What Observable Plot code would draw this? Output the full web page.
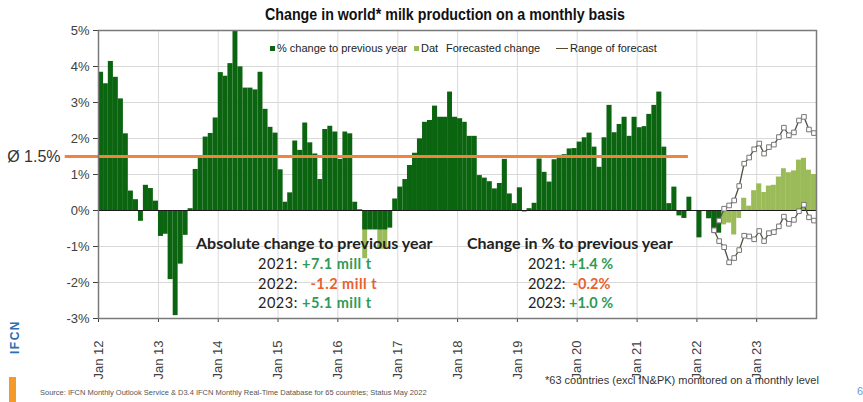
<!DOCTYPE html>
<html>
<head>
<meta charset="utf-8">
<script src="https://cdn.jsdelivr.net/npm/d3@7"></script>
<script src="https://cdn.jsdelivr.net/npm/@observablehq/plot@0.6"></script>
<style>
  html, body { margin: 0; padding: 0; background: #fff; }
  #chart { position: relative; width: 863px; height: 402px; overflow: hidden; font-family: "Liberation Sans", Arial, sans-serif; }
  #chart svg { position: absolute; left: 0; top: 0; }
  .t { position: absolute; white-space: pre; line-height: 1; }
  .title { left: 265px; top: 7px; font-size: 16px; font-weight: bold; color: #111; transform: scaleX(0.89); transform-origin: 0 0; }
  .legend { top: 42.5px; font-size: 11px; color: #222; }
  .sw { position: absolute; width: 5px; height: 5px; top: 46px; }
  .note { font-family: Lato, "Open Sans", sans-serif; color: #222; }
  .head { font-size: 16px; font-weight: bold; top: 235px; }
  .row { font-size: 14.5px; }
  .wide { letter-spacing: 0.5px; }
  .pos { color: #2f9a57; font-weight: bold; }
  .neg { color: #e8612c; font-weight: bold; }
</style>
</head>
<body>
<div id="chart"></div>
<script>
// Monthly year-on-year change of world milk production, % (Jan 2012 – May 2022)
const actualStart = "2012-01";
const actual = [
  3.84, 3.52, 4.14, 3.70, 3.10, 2.13, 0.54, 0.30, -0.30, 0.70, 0.61, 0.26,
  -0.72, -0.66, -1.92, -2.92, -1.49, -0.69, 0.05, 1.14, 1.45, 2.04, 2.14, 2.57,
  3.83, 3.73, 4.08, 5.00, 3.99, 3.40, 3.40, 3.35, 3.84, 2.81, 2.31, 2.15,
  1.13, 0.23, 0.49, 1.93, 1.67, 2.43, 1.88, 1.57, 0.86, 2.25, 2.34, 2.18,
  1.42, 2.18, 2.13, 0.23, 0.02, -0.54, -0.54, -0.54, -0.54, -0.54, -0.49, 0.32,
  0.65, 0.86, 1.25, 1.59, 1.99, 2.45, 2.50, 2.90, 2.59, 2.59, 3.29, 2.59,
  2.55, 2.45, 2.06, 2.06, 0.97, 0.90, 0.80, 0.60, 0.75, 1.42, 0.46, 0.19,
  0.63, -0.04, 0.05, 0.20, 1.43, 1.06, 0.79, 1.41, 1.53, 1.55, 1.71, 1.72,
  1.90, 2.02, 2.15, 1.76, 1.20, 2.02, 2.92, 2.16, 2.39, 2.59, 2.06, 2.59,
  2.30, 2.33, 2.67, 2.92, 3.29, 1.76, 0.19, 0.65, -0.15, -0.22, 0.37, -0.02,
  -0.76, -0.03, -0.23, -0.57, -0.63
];

// Forecasted change, % (Jun 2022 – Dec 2023)
const forecastStart = "2022-06";
const forecast = [
  -0.40, -0.35, -0.68, -0.22, 0.34, 0.12, 0.55, 0.74, 0.50, 0.68,
  0.70, 0.93, 1.16, 1.05, 1.10, 1.40, 1.45, 1.12, 1.00
];

// Older "Dat" series values that show below the 2016 bars
const datMonths = ["2016-06", "2016-09", "2016-10"];
const datValues = [-1.34, -1.08, -1.08];

// Range of forecast, upper and lower bound, % (Apr 2022 – Dec 2023)
const rangeStart = "2022-04";
const rangeHigh = [
  -0.55, -0.28, 0.05, 0.14, 0.28, 0.68, 1.30, 1.47, 1.70, 1.86, 1.58,
  1.76, 1.83, 2.04, 2.30, 2.09, 2.17, 2.50, 2.60, 2.25, 2.15
];
const rangeLow = [
  -0.55, -0.85, -1.02, -1.44, -1.32, -1.10, -0.70, -0.72, -0.80, -0.57, -0.85,
  -0.63, -0.60, -0.44, -0.17, -0.37, -0.26, -0.02, 0.16, -0.19, -0.28
];

// Long-term average growth and the span its line covers
const average = 1.5;
const averageLabel = "Ø 1.5%";
const averageFrom = "2011-06-12";
const averageTo = "2021-11-10";

// Axis ticks
const yearTicks = ["2012-01", "2013-01", "2014-01", "2015-01", "2016-01", "2017-01",
  "2018-01", "2019-01", "2020-01", "2021-01", "2022-01", "2023-01"];
const yearLabels = ["Jan 12", "Jan 13", "Jan 14", "Jan 15", "Jan 16", "Jan 17",
  "Jan 18", "Jan 19", "Jan 20", "Jan 21", "Jan 22", "Jan 23"];
const xDomain = ["2012-01", "2024-01"];
const yTicks = [-3, -2, -1, 0, 1, 2, 3, 4, 5];

const parseMonth = d3.utcParse("%Y-%m");
const parseDay = d3.utcParse("%Y-%m-%d");

// one row per monthly bar: [month start, next month start)
function monthRows(start, values) {
  const first = parseMonth(start);
  return values.map((value, i) => {
    const x1 = d3.utcMonth.offset(first, i);
    const x2 = d3.utcMonth.offset(first, i + 1);
    return {x1, x2, mid: new Date((+x1 + +x2) / 2), value};
  });
}

const actualRows = monthRows(actualStart, actual);
const forecastRows = monthRows(forecastStart, forecast);
const datRows = datMonths.map((m, i) => monthRows(m, [datValues[i]])[0]);
const highRows = monthRows(rangeStart, rangeHigh);
const lowRows = monthRows(rangeStart, rangeLow);

const tickDates = yearTicks.map(parseMonth);
const labelOf = new Map(tickDates.map((d, i) => [+d, yearLabels[i]]));

const darkGreen = "#0b640f";
const lightGreen = "#9bbb59";
const rangeColor = "#4f4f3f";
const gridColor = "#d9d9d9";

const plot = Plot.plot({
  width: 863,
  height: 402,
  marginLeft: 98,
  marginRight: 47,
  marginTop: 30,
  marginBottom: 84,
  style: {fontFamily: "'Liberation Sans', Arial, sans-serif", fontSize: "13px", color: "#404040", background: "transparent"},
  x: {
    type: "utc",
    domain: xDomain.map(parseMonth),
    ticks: tickDates,
    tickFormat: d => labelOf.get(+d),
    tickRotate: -90,
    tickSize: 4,
    tickPadding: 18,
    label: null
  },
  y: {
    domain: [-3, 5],
    ticks: yTicks,
    tickFormat: d => `${d}%`,
    tickSize: 5,
    tickPadding: 4,
    label: null
  },
  marks: [
    Plot.ruleY(yTicks, {stroke: gridColor, strokeWidth: 1}),
    Plot.ruleX(tickDates, {stroke: gridColor, strokeWidth: 1}),
    Plot.rectY(datRows, {x1: "x1", x2: "x2", y: "value", fill: lightGreen}),
    Plot.rectY(forecastRows, {x1: "x1", x2: "x2", y: "value", fill: lightGreen}),
    Plot.rectY(actualRows, {x1: "x1", x2: "x2", y: "value", fill: darkGreen}),
    Plot.ruleY([0], {stroke: "#1a1a1a", strokeWidth: 1.2}),
    Plot.ruleY([average], {x1: () => parseDay(averageFrom), x2: () => parseDay(averageTo), stroke: "#f0843a", strokeWidth: 3}),
    Plot.text([averageLabel], {frameAnchor: "left", y: () => average, textAnchor: "end", dx: -38, fontSize: 16, fill: "#333"}),
    Plot.lineY(highRows, {x: "mid", y: "value", stroke: rangeColor, strokeWidth: 1.3}),
    Plot.lineY(lowRows, {x: "mid", y: "value", stroke: rangeColor, strokeWidth: 1.3}),
    Plot.dot(highRows, {x: "mid", y: "value", symbol: "square", r: 2.6, fill: "white", stroke: "#777", strokeWidth: 1}),
    Plot.dot(lowRows, {x: "mid", y: "value", symbol: "square", r: 2.6, fill: "white", stroke: "#777", strokeWidth: 1}),
    Plot.frame({stroke: "#7a7a7a", strokeWidth: 1.5})
  ]
});

const chart = document.getElementById("chart");
chart.appendChild(plot);

chart.insertAdjacentHTML("beforeend", `
  <div class="t title">Change in world* milk production on a monthly basis</div>
  <div class="sw" style="left:270px;background:${darkGreen}"></div>
  <div class="t legend" style="left:277px">% change to previous year</div>
  <div class="sw" style="left:414px;background:${lightGreen}"></div>
  <div class="t legend" style="left:421px">Dat</div>
  <div class="t legend" style="left:446px">Forecasted change</div>
  <div style="position:absolute;left:556px;top:47.5px;width:12px;height:1.6px;background:#5a4a2e"></div>
  <div class="t legend" style="left:570px">Range of forecast</div>

  <div class="t note head" style="left:196px">Absolute change to previous year</div>
  <div class="t note row wide" style="left:258px;top:257px">2021: <span class="pos">+7.1 mill t</span></div>
  <div class="t note row wide" style="left:258px;top:277px">2022:   <span class="neg">-1.2 mill t</span></div>
  <div class="t note row wide" style="left:258px;top:296px">2023: <span class="pos">+5.1 mill t</span></div>

  <div class="t note head" style="left:467px">Change in % to previous year</div>
  <div class="t note row" style="left:528px;top:257px">2021: <span class="pos">+1.4 %</span></div>
  <div class="t note row" style="left:528px;top:277px">2022:  <span class="neg">-0.2%</span></div>
  <div class="t note row" style="left:528px;top:296px">2023: <span class="pos">+1.0 %</span></div>

  <div class="t" style="left:-2px;top:331px;transform:rotate(-90deg);font-size:12px;font-weight:bold;color:#2f6db3;letter-spacing:1.5px">IFCN</div>
  <div style="position:absolute;left:9px;top:377px;width:7px;height:25px;background:#f39a2b"></div>
  <div class="t" style="left:40px;top:389px;font-size:7.5px;color:#555">Source: IFCN Monthly Outlook Service &amp; D3.4 IFCN Monthly Real-Time Database for 65 countries; Status May 2022</div>
  <div class="t" style="left:545px;top:375px;font-size:11px;color:#333">*63 countries (excl IN&amp;PK) monitored on a monthly level</div>
  <div class="t" style="left:857px;top:386px;font-size:11px;color:#6a9ad0">6</div>
`);
</script>
</body>
</html>
